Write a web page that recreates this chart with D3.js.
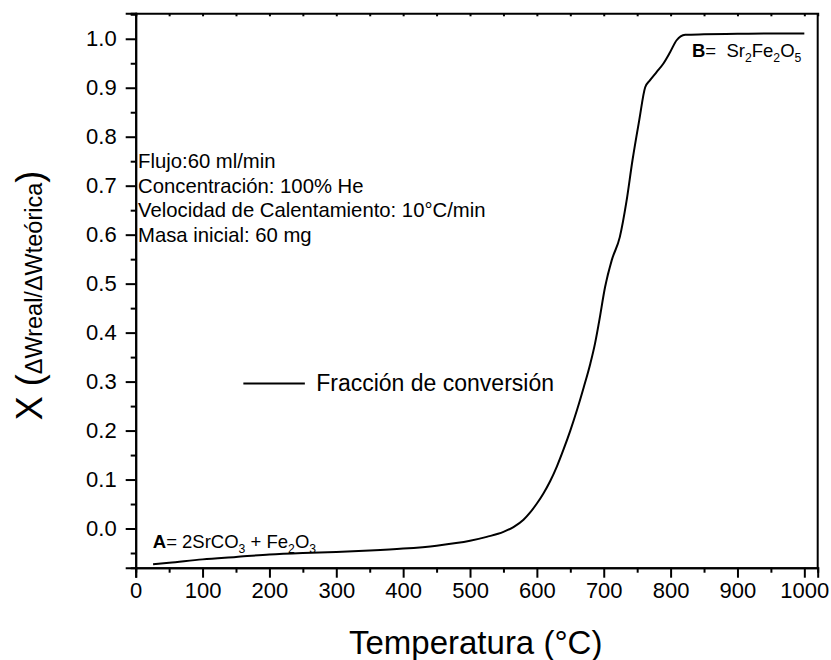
<!DOCTYPE html>
<html>
<head>
<meta charset="utf-8">
<script src="https://cdn.jsdelivr.net/npm/d3@7"></script>
<style>
  html, body { margin: 0; padding: 0; background: #fff; }
  svg { display: block; font-family: Arial, "Liberation Sans", sans-serif; }
</style>
</head>
<body>
<svg id="chart" width="831" height="660"></svg>
<script>
// Conversion fraction X vs. temperature for the SrCO3 + Fe2O3 -> Sr2Fe2O5 reaction
const temperature = [26, 50, 100, 150, 200, 250, 300, 350, 400, 450, 500, 525, 550, 565, 580, 590,
  600, 610, 620, 630, 640, 650, 660, 670, 680, 687, 693, 702, 712, 724, 734, 743, 753, 762, 769,
  779, 789, 799, 809, 815, 822, 850, 900, 950, 1000];
const conversion = [-0.073, -0.070, -0.063, -0.058, -0.053, -0.050, -0.048, -0.045, -0.041, -0.035,
  -0.025, -0.017, -0.007, 0.003, 0.018, 0.033, 0.051, 0.072, 0.097, 0.127, 0.162, 0.200, 0.242,
  0.288, 0.337, 0.378, 0.422, 0.493, 0.548, 0.595, 0.668, 0.752, 0.833, 0.901, 0.915, 0.932, 0.949,
  0.972, 0.997, 1.005, 1.008, 1.009, 1.010, 1.011, 1.011];

const xTicks = [0, 100, 200, 300, 400, 500, 600, 700, 800, 900, 1000];
const xMinorTicks = [50, 150, 250, 350, 450, 550, 650, 750, 850, 950];
const yTicks = [0.0, 0.1, 0.2, 0.3, 0.4, 0.5, 0.6, 0.7, 0.8, 0.9, 1.0];
const yMinorTicks = [-0.05, 0.05, 0.15, 0.25, 0.35, 0.45, 0.55, 0.65, 0.75, 0.85, 0.95, 1.05];

const conditions = [
  "Flujo:60 ml/min",
  "Concentración: 100% He",
  "Velocidad de Calentamiento: 10°C/min",
  "Masa inicial: 60 mg"
];
const seriesName = "Fracción de conversión";

const svg = d3.select("#chart");
const margin = { left: 135.7, right: 831 - 817.7, top: 13.3, bottom: 660 - 567.7 };
const W = 831, H = 660;

const x = d3.scaleLinear().domain([0, 1020]).range([margin.left, W - margin.right]);
const y = d3.scaleLinear().domain([-0.08, 1.052]).range([H - margin.bottom, margin.top]);

const tickFont = 22;

// Bottom axis: major + minor ticks
svg.append("g").attr("transform", `translate(0,${y.range()[0]})`)
  .call(d3.axisBottom(x).tickValues(xTicks).tickFormat(d3.format("d")).tickSize(10).tickPadding(5));
svg.append("g").attr("transform", `translate(0,${y.range()[0]})`)
  .call(d3.axisBottom(x).tickValues(xMinorTicks).tickFormat("").tickSize(5));

// Left axis: major + minor ticks
svg.append("g").attr("transform", `translate(${x.range()[0]},0)`)
  .call(d3.axisLeft(y).tickValues(yTicks).tickFormat(d3.format(".1f")).tickSize(10).tickPadding(9));
svg.append("g").attr("transform", `translate(${x.range()[0]},0)`)
  .call(d3.axisLeft(y).tickValues(yMinorTicks).tickFormat("").tickSize(5));

// Top axis: small inward ticks
svg.append("g").attr("transform", `translate(0,${y.range()[1]})`)
  .call(d3.axisTop(x).tickValues(xTicks.concat(xMinorTicks)).tickFormat("").tickSize(-3));

svg.selectAll(".domain").attr("stroke", "#000").attr("stroke-width", 2);
svg.selectAll(".tick line").attr("stroke", "#000").attr("stroke-width", 2);
svg.selectAll(".tick text").attr("font-size", tickFont).attr("fill", "#000")
  .attr("font-family", 'Arial, "Liberation Sans", sans-serif');

// Right frame line
svg.append("line")
  .attr("x1", x.range()[1]).attr("x2", x.range()[1])
  .attr("y1", y.range()[1]).attr("y2", y.range()[0])
  .attr("stroke", "#000").attr("stroke-width", 2);

// Data curve
const pts = temperature.map((t, i) => [t, conversion[i]]);
const line = d3.line().x(d => x(d[0])).y(d => y(d[1])).curve(d3.curveMonotoneX);
svg.append("path").datum(pts)
  .attr("d", line).attr("fill", "none").attr("stroke", "#000").attr("stroke-width", 2)
  .attr("stroke-linejoin", "round");

// Legend
const legY = y(0.3) + 2;
svg.append("line")
  .attr("x1", x(161)).attr("x2", x(253)).attr("y1", legY).attr("y2", legY)
  .attr("stroke", "#000").attr("stroke-width", 2);
svg.append("text").attr("x", x(270)).attr("y", legY + 7.5)
  .attr("font-size", 23).attr("fill", "#000").text(seriesName);

// Experimental conditions
svg.append("g").selectAll("text").data(conditions).join("text")
  .attr("x", x(3.5)).attr("y", (d, i) => 168 + i * 24.6)
  .attr("font-size", 20.3).attr("fill", "#000").text(d => d);

// Species labels with subscripts
function chem(g, parts, size) {
  const t = g.append("text").attr("font-size", size).attr("fill", "#000").style("white-space", "pre");
  parts.forEach(p => {
    const ts = t.append("tspan").text(p.t);
    if (p.b) ts.attr("font-weight", "bold");
    if (p.sub) ts.attr("font-size", size * 0.66).attr("dy", size * 0.27);
    if (p.up) ts.attr("dy", -size * 0.27);
  });
  return t;
}
const gA = svg.append("g").attr("transform", `translate(${x(25.5)},${y(-0.039)})`);
chem(gA, [{ t: "A", b: true }, { t: "= 2SrCO" }, { t: "3", sub: true }, { t: " + Fe", up: true },
  { t: "2", sub: true }, { t: "O", up: true }, { t: "3", sub: true }], 18.5);

const gB = svg.append("g").attr("transform", `translate(${x(832)},${y(0.9625)})`);
chem(gB, [{ t: "B", b: true }, { t: "=  Sr" }, { t: "2", sub: true }, { t: "Fe", up: true },
  { t: "2", sub: true }, { t: "O", up: true }, { t: "5", sub: true }], 18.5);

// Axis titles
svg.append("text")
  .attr("x", (x.range()[0] + x.range()[1]) / 2 - 1).attr("y", 654)
  .attr("text-anchor", "middle").attr("font-size", 33).attr("fill", "#000")
  .text("Temperatura (°C)");

const yt = svg.append("text")
  .attr("transform", `translate(42,${(y.range()[0] + y.range()[1]) / 2 + 5}) rotate(-90)`)
  .attr("text-anchor", "middle").attr("fill", "#000").style("white-space", "pre");
yt.append("tspan").attr("font-size", 36).text("X (");
yt.append("tspan").attr("font-size", 23.5).text("ΔWreal/ΔWteórica");
yt.append("tspan").attr("font-size", 36).text(")");
</script>
</body>
</html>
